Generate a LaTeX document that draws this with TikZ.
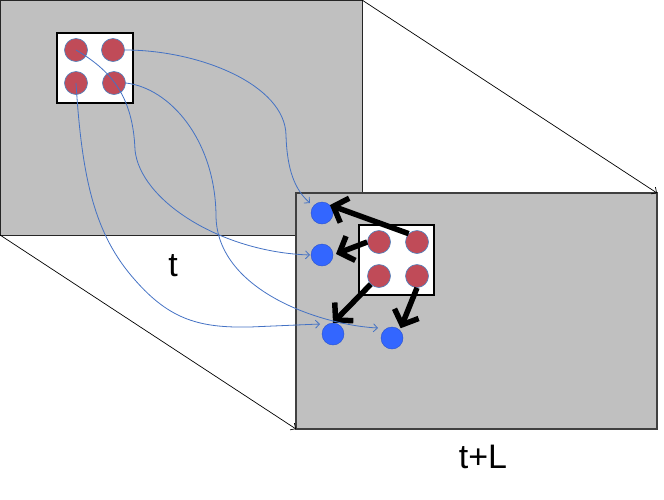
\documentclass[tikz,border=0pt]{standalone}
\usepackage{fontspec}
\setmainfont{Liberation Sans}
\usetikzlibrary{arrows.meta}
\definecolor{panelgray}{RGB}{192,192,192}
\definecolor{redc}{RGB}{192,75,88}
\definecolor{bluedot}{RGB}{51,102,255}
\definecolor{curveblue}{RGB}{68,114,196}
\definecolor{ringblue}{RGB}{79,129,189}
\begin{document}
\begin{tikzpicture}[x=1pt,y=-1pt,
  panelbox/.style={draw=black!85, fill=panelgray, line width=0.9pt, inner sep=0pt, outer sep=0pt},
  whitebox/.style={draw=black, fill=white, line width=1.3pt, inner sep=0pt, outer sep=0pt},
  reddot/.style={circle, inner sep=0pt, minimum size=23pt, fill=redc, draw=ringblue, line width=0.6pt},
  bdot/.style={circle, inner sep=0pt, minimum size=22pt, fill=bluedot, draw=bluedot!80!black, line width=0.4pt},
  flow/.style={draw=curveblue, line width=0.8pt, -{Straight Barb[length=4pt,width=8pt]}},
  bigarrow/.style={draw=black, line width=5.5pt, -{Straight Barb[length=12pt,width=26pt]}},
  thinarrow/.style={draw=black, line width=0.7pt, -{Straight Barb[length=4pt,width=8pt]}},
  lbl/.style={inner sep=0pt, font=\fontsize{34}{40}\selectfont}
]
\useasboundingbox (0,0) rectangle (664,499);

% back panel (time t)
\node[panelbox, minimum width=362pt, minimum height=235pt] (p1) at (181,117.5) {};
\node[whitebox, minimum width=76pt, minimum height=70pt] (box1) at (95,68) {};
\node[reddot] (c1) at (76,50) {};
\node[reddot] (c2) at (113,50) {};
\node[reddot] (c3) at (76,83) {};
\node[reddot] (c4) at (114,83) {};

% front panel (time t+L)
\node[panelbox, draw=black!75, line width=1.3pt, minimum width=361pt, minimum height=236pt] (p2) at (476.5,311) {};
\node[whitebox, minimum width=75pt, minimum height=70pt] (box2) at (396.5,260) {};
\node[reddot] (d1) at (379,242) {};
\node[reddot] (d2) at (417,242) {};
\node[reddot] (d3) at (379,276) {};
\node[reddot] (d4) at (417,276) {};

\node[bdot] (b1) at (322,213) {};
\node[bdot] (b2) at (322,255) {};
\node[bdot] (b3) at (333,334) {};
\node[bdot] (b4) at (392,338) {};

% labels
\node[lbl] (tl) at (173,266) {t};
\node[lbl] (tll) at (483,457) {t+L};

% perspective arrows
\draw[thinarrow] (p1.north east) -- (p2.north east);
\draw[thinarrow] (p1.south west) -- (p2.south west);

% thick black arrows
\draw[bigarrow] (d2.north west) -- (b1.north east);
\draw[bigarrow, shorten >=3pt] (d1.west) -- (b2.east);
\draw[bigarrow] (d3.south west) -- (b3.north);
\draw[bigarrow, shorten >=2pt] (d4.south) -- (b4.north east);

% flow curves
\coordinate (e1) at (310,203);
\coordinate (e2) at (310,255);
\coordinate (e3) at (320,324);
\coordinate (e4) at (378,328);
\draw[flow] (c2.east) .. controls (200,50) and (285,85) .. (286,135)
  .. controls (287,170) and (295,190) .. (e1);
\draw[flow] (c4.east) .. controls (170,88) and (215,140) .. (216,215)
  .. controls (216,290) and (320,325) .. (e4);
\draw[flow] (c1.center) .. controls (110,70) and (133,95) .. (135,150)
  .. controls (140,200) and (220,252) .. (e2);
\draw[flow] (c3.center) .. controls (82,180) and (95,235) .. (135,280)
  .. controls (170,320) and (200,328) .. (250,327) -- (e3);
\end{tikzpicture}
\end{document}
